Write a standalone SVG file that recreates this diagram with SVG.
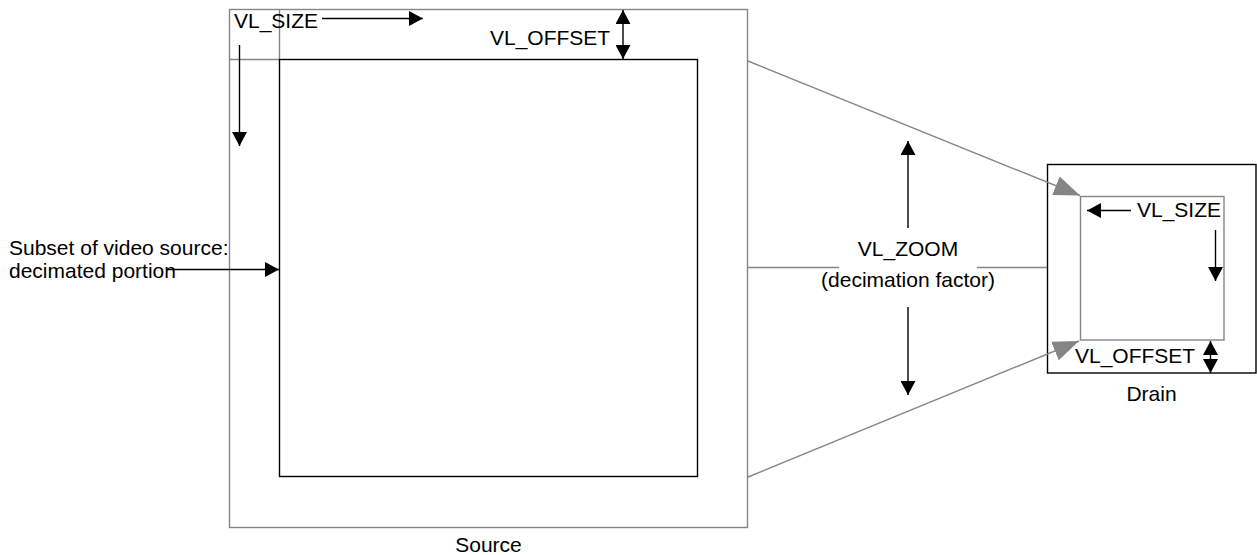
<svg xmlns="http://www.w3.org/2000/svg" width="1257" height="555" viewBox="0 0 1257 555">
  <style>
    .t { font-family: "Liberation Sans", Arial, sans-serif; font-size: 21px; fill: #000; }
    .m { text-anchor: middle; }
    .g { fill: none; stroke: #858585; stroke-width: 1.4; }
    .k { fill: none; stroke: #000; stroke-width: 1.4; }
    .ka { fill: none; stroke: #000; stroke-width: 1.4; marker-end: url(#ah); }
    .kd { fill: none; stroke: #000; stroke-width: 1.4; marker-end: url(#ah); marker-start: url(#ah); }
    .ga { fill: none; stroke: #858585; stroke-width: 1.4; marker-end: url(#gh); }
  </style>
  <defs>
    <marker id="ah" markerUnits="userSpaceOnUse" markerWidth="15" markerHeight="15" refX="14" refY="7.5" orient="auto-start-reverse">
      <path d="M0,0 L14,7.5 L0,15 z" fill="#000"/>
    </marker>
    <marker id="gh" markerUnits="userSpaceOnUse" markerWidth="27" markerHeight="21" refX="26" refY="10" orient="auto">
      <path d="M0,0 L26,10 L0,20 z" fill="#858585"/>
    </marker>
  </defs>
  <rect width="1257" height="555" fill="#fff"/>

  <g id="source">
    <rect class="g" x="229.5" y="9.5" width="518" height="518"/>
    <line class="g" x1="229.5" y1="59.5" x2="279.5" y2="59.5"/>
    <line class="g" x1="279.5" y1="9.5" x2="279.5" y2="59.5"/>
    <rect class="k" x="279.5" y="59.5" width="418" height="417"/>
    <text class="t m" x="488.5" y="552">Source</text>
    <text class="t" x="234" y="28">VL_SIZE</text>
    <text class="t" x="490" y="45">VL_OFFSET</text>
  </g>

  <g id="subset-label">
    <text class="t" x="9" y="255">Subset of video source:</text>
    <text class="t" x="9" y="278">decimated portion</text>
  </g>

  <g id="zoom-label">
    <text class="t m" x="908" y="256">VL_ZOOM</text>
    <text class="t m" x="908" y="287">(decimation factor)</text>
  </g>

  <g id="drain">
    <rect class="k" x="1047.5" y="164.5" width="208.5" height="208.5"/>
    <rect class="g" x="1080.5" y="196.5" width="143.5" height="143.5"/>
    <text class="t" x="1137" y="217">VL_SIZE</text>
    <text class="t" x="1075" y="363">VL_OFFSET</text>
    <text class="t m" x="1151.5" y="401">Drain</text>
  </g>

  <g id="connectors">
    <line class="ka" x1="322" y1="18.5" x2="423" y2="18.5"/>
    <line class="ka" x1="239.5" y1="45" x2="239.5" y2="146"/>
    <line class="kd" x1="623" y1="10" x2="623" y2="59"/>
    <line class="ka" x1="167" y1="269.5" x2="279" y2="269.5"/>
    <line class="ka" x1="908" y1="228" x2="908" y2="141"/>
    <line class="ka" x1="908" y1="307" x2="908" y2="395"/>
    <line class="g" x1="748" y1="267.5" x2="839" y2="267.5"/>
    <line class="g" x1="977" y1="267.5" x2="1047" y2="267.5"/>
    <line class="ga" x1="748" y1="61" x2="1080" y2="195.5"/>
    <line class="ga" x1="748" y1="477" x2="1079" y2="341"/>
    <line class="ka" x1="1131" y1="210.5" x2="1087" y2="210.5"/>
    <line class="ka" x1="1215.5" y1="230" x2="1215.5" y2="281"/>
    <line class="kd" x1="1210.5" y1="341" x2="1210.5" y2="373"/>
  </g>
</svg>
